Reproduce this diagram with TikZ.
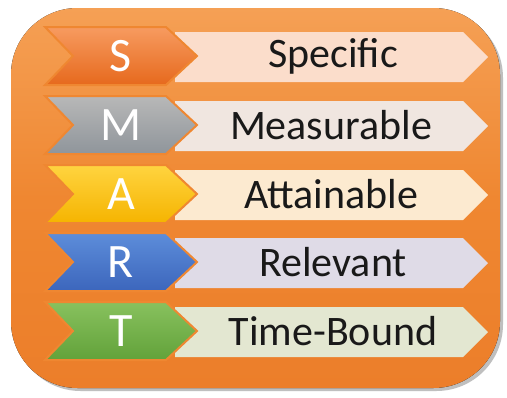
\documentclass[tikz,border=0pt]{standalone}
\usepackage{fontspec}
\setmainfont{Carlito}
\usetikzlibrary{shadows}

\definecolor{frameTop}{HTML}{F5A055}
\definecolor{frameBot}{HTML}{EC7E2A}
\definecolor{frameEdge}{HTML}{EF8731}
\definecolor{sTop}{HTML}{F79B60}
\definecolor{sBot}{HTML}{E6691D}
\definecolor{sBox}{HTML}{FBDDCB}
\definecolor{mTop}{HTML}{B8B8B8}
\definecolor{mBot}{HTML}{8F959B}
\definecolor{mBox}{HTML}{F0E6E0}
\definecolor{aTop}{HTML}{FFD440}
\definecolor{aBot}{HTML}{F5B400}
\definecolor{aBox}{HTML}{FCEAD0}
\definecolor{rTop}{HTML}{5D8DDA}
\definecolor{rBot}{HTML}{3C66BC}
\definecolor{rBox}{HTML}{DFDBE7}
\definecolor{tTop}{HTML}{88C15E}
\definecolor{tBot}{HTML}{62A23A}
\definecolor{tBox}{HTML}{E3E7D1}

\tikzset{
  letterbox/.style={draw=frameEdge, line width=1.5, line join=miter},
  wordbox/.style={draw=none},
  letter/.style={text=white, font=\fontsize{36}{36}\selectfont, inner sep=0.75pt},
  word/.style={text=black!90, font=\fontsize{31.5}{31.5}\selectfont, inner sep=0.75pt}
}

\begin{document}
\begin{tikzpicture}[x=0.75pt,y=0.75pt,yscale=-1,xscale=1]
        \useasboundingbox (0,0) rectangle (507,397);
        \fill [white] (0,0) rectangle (507,397);

        %Shape: Rounded Rect [id:frame]
        \fill [black!25, rounded corners=50] (14,11) rectangle (503,391);
        \fill [top color=frameTop, bottom color=frameBot, middle color=frameEdge, rounded corners=50] (11,8) rectangle (500,388);

        %Shape: Word boxes
        \fill [sBox] (175,32) -- (463,32) -- (488,57) -- (463,82) -- (175,82) -- cycle;
        \fill [mBox] (175,101) -- (463,101) -- (488,126) -- (463,151) -- (175,151) -- cycle;
        \fill [aBox] (175,170) -- (463,170) -- (488,195) -- (463,220) -- (175,220) -- cycle;
        \fill [rBox] (175,238) -- (463,238) -- (488,263) -- (463,288) -- (175,288) -- cycle;
        \fill [tBox] (175,307) -- (463,307) -- (488,332) -- (463,357) -- (175,357) -- cycle;

        %Shape: Chevrons
        \draw [letterbox, top color=sTop, bottom color=sBot] (45,27) -- (166,27) -- (197,56) -- (166,85) -- (45,85) -- (73,56) -- cycle;
        \draw [letterbox, top color=mTop, bottom color=mBot] (45,96) -- (166,96) -- (197,125) -- (166,154) -- (45,154) -- (73,125) -- cycle;
        \draw [letterbox, top color=aTop, bottom color=aBot] (45,165) -- (166,165) -- (197,194) -- (166,223) -- (45,223) -- (73,194) -- cycle;
        \draw [letterbox, top color=rTop, bottom color=rBot] (45,233) -- (166,233) -- (197,262) -- (166,291) -- (45,291) -- (73,262) -- cycle;
        \draw [letterbox, top color=tTop, bottom color=tBot] (45,302) -- (166,302) -- (197,331) -- (166,360) -- (45,360) -- (73,331) -- cycle;

        % Text Node
        \node [letter] (s) at (121,56) {S};
        \node [letter] (m) at (121,125) {M};
        \node [letter] (a) at (121,194) {A};
        \node [letter] (r) at (121,262) {R};
        \node [letter] (t) at (121,331) {T};
        % Text Node
        \node [word] (specific) at (333,56) {Specific};
        \node [word] (measurable) at (331,125) {Measurable};
        \node [word] (attainable) at (331,194) {Attainable};
        \node [word] (relevant) at (333,262) {Relevant};
        \node [word] (timebound) at (333,331) {Time-Bound};
    \end{tikzpicture}
\end{document}
